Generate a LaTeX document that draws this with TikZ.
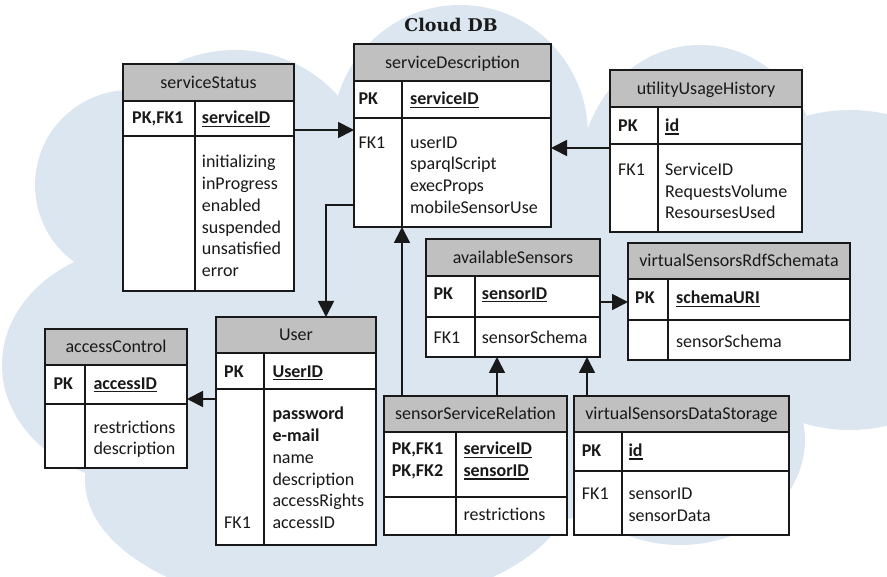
\documentclass[tikz,border=0pt]{standalone}
\usepackage{fontspec}
\setmainfont{Carlito}
\newfontfamily\titlefont{DejaVu Serif}
\usetikzlibrary{arrows.meta}
\definecolor{cloudc}{RGB}{220,230,241}
\definecolor{headc}{RGB}{192,192,192}
\definecolor{inkc}{RGB}{25,25,25}
\newcommand\keyul[1]{\setbox0\hbox{\bfseries #1}\rlap{\rule[-3.2pt]{\wd0}{1.5pt}}\box0}
\tikzset{
 tbox/.style={rectangle, fill=white, inner sep=0pt, outer sep=0pt},
 tline/.style={line width=1.5pt, draw=inkc},
 htext/.style={anchor=base, inner sep=0pt, text=inkc, font=\fontsize{18}{22}\selectfont},
 fld/.style={anchor=base west, inner sep=0pt, text=inkc, font=\fontsize{18}{22}\selectfont},
 arr/.style={line width=1.8pt, draw=inkc, -{Triangle[length=16pt,width=16pt]}},
}
% #1 name, #2 x1, #3 y1, #4 x2, #5 header bottom, #6 key row bottom, #7 y2, #8 divider x, #9 title
\newcommand\erdtab[9]{%
  \node[tbox, minimum width={#4-#2}, minimum height={#7-#3}, anchor=north west] (#1) at (#2,#3) {};
  \fill[headc] (#2,#3) rectangle (#4,#5);
  \draw[tline] (#2,#5) -- (#4,#5) (#2,#6) -- (#4,#6) (#8,#5) -- (#8,#7);
  \draw[tline] (#2,#3) rectangle (#4,#7);
  \node[htext] (#1-t) at ({(#2+#4)/2},{#5-12.5}) {#9};
}
\begin{document}
\begin{tikzpicture}[x=1pt,y=-1pt]
\useasboundingbox (0,0) rectangle (887,577);
% cloud
\begin{scope}
\clip (0,0) rectangle (887,577);
\fill[cloudc] (235,180) ellipse [x radius=135pt, y radius=130pt];
\fill[cloudc] (130,185) ellipse [x radius=95pt, y radius=95pt];
\fill[cloudc] (150,365) ellipse [x radius=148pt, y radius=120pt];
\fill[cloudc] (330,480) ellipse [x radius=245pt, y radius=130pt];
\fill[cloudc] (680,440) ellipse [x radius=125pt, y radius=105pt];
\fill[cloudc] (850,270) ellipse [x radius=160pt, y radius=160pt];
\fill[cloudc] (700,175) ellipse [x radius=120pt, y radius=130pt];
\fill[cloudc] (460,135) ellipse [x radius=128pt, y radius=130pt];
\fill[cloudc] (450,330) ellipse [x radius=360pt, y radius=200pt];
\end{scope}
\node[anchor=base, inner sep=0pt, text=inkc, font=\titlefont\bfseries\fontsize{17.5}{20}\selectfont] (title) at (451,32) {Cloud DB};

% tables
\erdtab{ss}{123}{64}{294}{101}{136}{291}{195}{serviceStatus}
\node[fld] (ss-k) at (132,124) {\textbf{PK,FK1}};
\node[fld] (ss-n) at (201.7,124) {\keyul{serviceID}};
\foreach \fname [count=\i] in {initializing,inProgress,enabled,suspended,unsatisfied,error}
  \node[fld] (ss-b\i) at (201.7,{168+(\i-1)*21.7}) {\fname};

\erdtab{sd}{354}{44}{551}{81}{118}{227}{402}{serviceDescription}
\node[fld] (sd-k) at (358.3,105) {\textbf{PK}};
\node[fld] (sd-n) at (410,105) {\keyul{serviceID}};
\node[fld] (sd-f) at (358.3,148.3) {FK1};
\foreach \fname [count=\i] in {userID,sparqlScript,execProps,mobileSensorUse}
  \node[fld] (sd-b\i) at (410,{148.3+(\i-1)*21.7}) {\fname};

\erdtab{uuh}{610}{70}{802}{107}{144}{232}{658}{utilityUsageHistory}
\node[fld] (uuh-k) at (618,131.7) {\textbf{PK}};
\node[fld] (uuh-n) at (665,131.7) {\keyul{id}};
\node[fld] (uuh-f) at (618,175.5) {FK1};
\foreach \fname [count=\i] in {ServiceID,RequestsVolume,ResoursesUsed}
  \node[fld] (uuh-b\i) at (665,{175.5+(\i-1)*21.7}) {\fname};

\erdtab{ac}{45}{329}{187}{365}{404}{468}{85}{accessControl}
\node[fld] (ac-k) at (53.3,389.3) {\textbf{PK}};
\node[fld] (ac-n) at (93.3,389.3) {\keyul{accessID}};
\foreach \fname [count=\i] in {restrictions,description}
  \node[fld] (ac-b\i) at (93.3,{433.3+(\i-1)*21.7}) {\fname};

\erdtab{user}{216}{317}{376}{353}{389}{545}{264}{User}
\node[fld] (user-k) at (224,377.3) {\textbf{PK}};
\node[fld] (user-n) at (272.3,377.3) {\keyul{UserID}};
\foreach \fname [count=\i] in {\textbf{password},\textbf{e-mail},name,description,accessRights,accessID}
  \node[fld] (user-b\i) at (272.3,{420+(\i-1)*21.7}) {\fname};
\node[fld] (user-f) at (224,528.5) {FK1};

\erdtab{as}{426}{239}{600}{276}{317}{357}{475}{availableSensors}
\node[fld] (as-k) at (433.3,299.3) {\textbf{PK}};
\node[fld] (as-n) at (481.7,299.3) {\keyul{sensorID}};
\node[fld] (as-f) at (433.3,343.3) {FK1};
\node[fld] (as-b1) at (481.7,343.3) {sensorSchema};

\erdtab{vsrs}{628}{243}{850}{279}{320}{360}{668}{virtualSensorsRdfSchemata}
\node[fld] (vsrs-k) at (635,304) {\textbf{PK}};
\node[fld] (vsrs-n) at (676,304) {\keyul{schemaURI}};
\node[fld] (vsrs-b1) at (676,347.3) {sensorSchema};

\erdtab{ssr}{384}{396}{567}{432}{497}{535}{456}{sensorServiceRelation}
\node[fld] (ssr-k1) at (391.7,455) {\textbf{PK,FK1}};
\node[fld] (ssr-k2) at (391.7,476.7) {\textbf{PK,FK2}};
\node[fld] (ssr-n1) at (463.3,455) {\keyul{serviceID}};
\node[fld] (ssr-n2) at (463.3,476.7) {\keyul{sensorID}};
\node[fld] (ssr-b1) at (463.3,520) {restrictions};

\erdtab{vsds}{574}{396}{789}{432}{471}{535}{622}{virtualSensorsDataStorage}
\node[fld] (vsds-k) at (581.7,456.7) {\textbf{PK}};
\node[fld] (vsds-n) at (628.3,456.7) {\keyul{id}};
\node[fld] (vsds-f) at (581.7,500) {FK1};
\foreach \fname [count=\i] in {sensorID,sensorData}
  \node[fld] (vsds-b\i) at (628.3,{500+(\i-1)*21.7}) {\fname};

% connectors
\draw[arr] (ss.east |- 0,130) -- (sd.west |- 0,130);
\draw[arr] (uuh.west |- 0,148) -- (sd.east |- 0,148);
\draw[arr] (sd.west |- 0,205) -| (user.north -| 326,0);
\draw[arr] (user.west |- 0,399) -- (ac.east |- 0,399);
\draw[arr] (ssr.north -| 402,0) -- (sd.south -| 402,0);
\draw[arr] (ssr.north -| 497,0) -- (as.south -| 497,0);
\draw[arr] (vsds.north -| 587,0) -- (as.south -| 587,0);
\draw[arr] (as.east |- 0,302) -- (vsrs.west |- 0,302);
\end{tikzpicture}
\end{document}
